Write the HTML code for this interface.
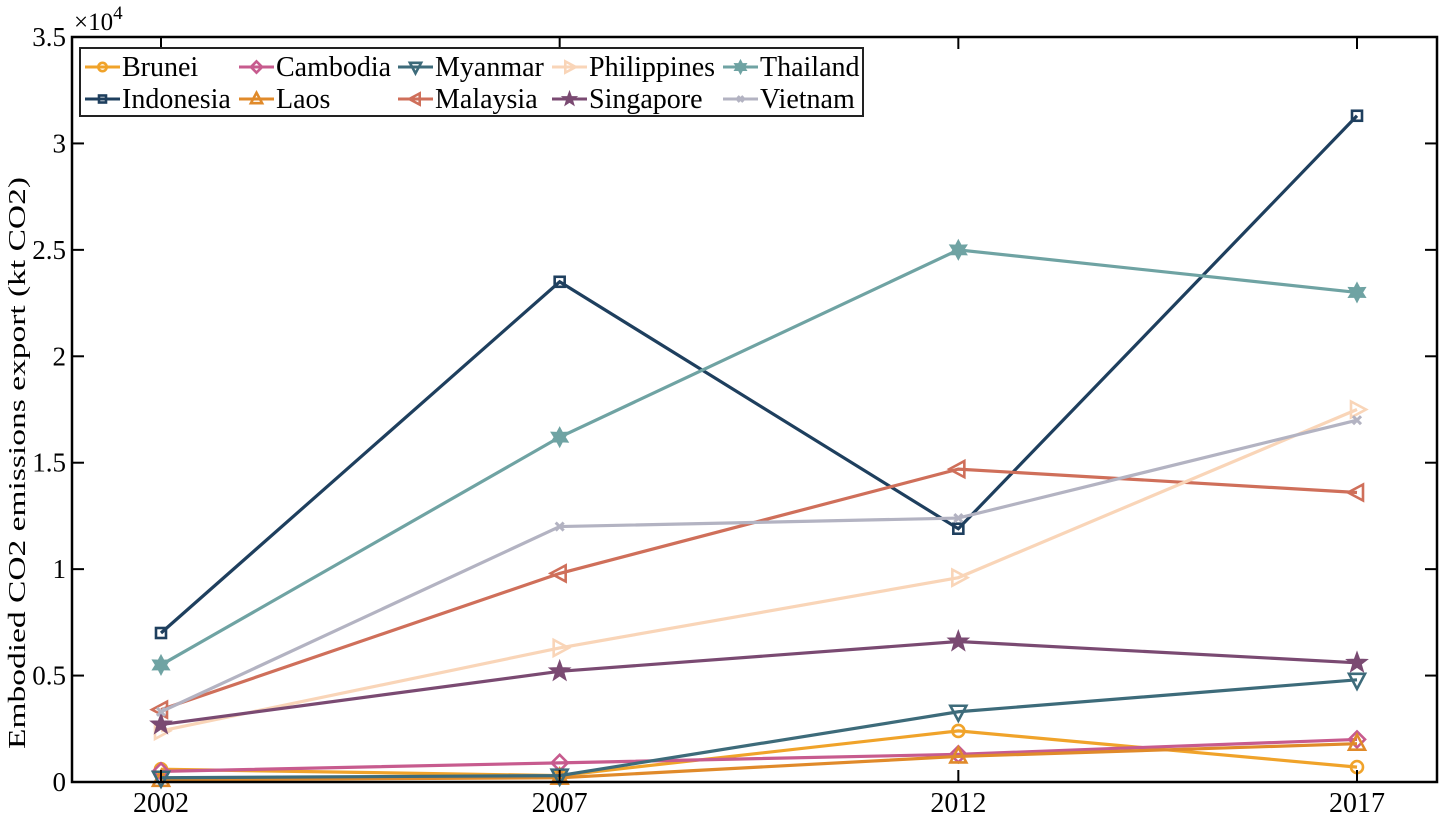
<!DOCTYPE html>
<html><head><meta charset="utf-8"><style>
html,body{margin:0;padding:0;background:#fff;}
svg text{font-family:"Liberation Serif",serif;}
</style></head><body>
<svg id="chart" width="1442" height="817"></svg>
<script>
const years=[2002,2007,2012,2017];
const yTicks=[0,0.5,1,1.5,2,2.5,3,3.5];
const brunei=[600,300,2400,700];
const indonesia=[7000,23500,11900,31300];
const cambodia=[500,900,1300,2000];
const laos=[100,200,1200,1800];
const myanmar=[200,300,3300,4800];
const malaysia=[3400,9800,14700,13600];
const philippines=[2400,6300,9600,17500];
const singapore=[2700,5200,6600,5600];
const thailand=[5500,16200,25000,23000];
const vietnam=[3300,12000,12400,17000];

const series=[
 {name:'Brunei',v:brunei,c:'#f0a32a',m:'circle'},
 {name:'Indonesia',v:indonesia,c:'#1e3f5e',m:'square'},
 {name:'Cambodia',v:cambodia,c:'#c75b8e',m:'diamond'},
 {name:'Laos',v:laos,c:'#e08a2a',m:'tri'},
 {name:'Myanmar',v:myanmar,c:'#3d6b7a',m:'tridown'},
 {name:'Malaysia',v:malaysia,c:'#cf6f5a',m:'triLeft'},
 {name:'Philippines',v:philippines,c:'#f9d5b8',m:'triRight'},
 {name:'Singapore',v:singapore,c:'#7a4a72',m:'star5'},
 {name:'Thailand',v:thailand,c:'#6fa3a3',m:'star6'},
 {name:'Vietnam',v:vietnam,c:'#b3b3c2',m:'x'}
];
const L=72,R=1437,T=37,B=782;
const x=yr=>161+(yr-2002)/15*(1357-161);
const y=v=>B-(v/35000)*(B-T);
const NS='http://www.w3.org/2000/svg';
const svg=document.getElementById('chart');
function mk(t,a,p){const e=document.createElementNS(NS,t);for(const k in a)e.setAttribute(k,a[k]);(p||svg).appendChild(e);return e;}
function marker(g,m,cx,cy,c,k){
 k=k||1;let e;
 const poly=pts=>mk('polygon',{points:pts.map(p=>(cx+p[0]*k)+','+(cy+p[1]*k)).join(' '),fill:'none',stroke:c,'stroke-width':2.6},g);
 if(m==='circle')e=mk('circle',{cx,cy,r:6*k,fill:'none',stroke:c,'stroke-width':2.6},g);
 else if(m==='square')e=mk('rect',{x:cx-5*k,y:cy-5*k,width:10*k,height:10*k,fill:'none',stroke:c,'stroke-width':2.6},g);
 else if(m==='diamond')e=poly([[0,-8],[8,0],[0,8],[-8,0]]);
 else if(m==='tri')e=poly([[0,-9],[8,6],[-8,6]]);
 else if(m==='tridown')e=poly([[0,9],[8,-6],[-8,-6]]);
 else if(m==='triLeft')e=poly([[-9,0],[6,-8],[6,8]]);
 else if(m==='triRight')e=poly([[9,0],[-6,-8],[-6,8]]);
 else if(m==='star5'){const p=[];for(let i=0;i<10;i++){const r=(i%2?4.5:11)*k,a=-Math.PI/2+i*Math.PI/5;p.push([r*Math.cos(a),r*Math.sin(a)]);}e=mk('polygon',{points:p.map(q=>(cx+q[0])+','+(cy+q[1])).join(' '),fill:c,stroke:c,'stroke-width':1},g);}
 else if(m==='star6'){const p=[];for(let i=0;i<12;i++){const r=(i%2?5.5:10)*k,a=-Math.PI/2+i*Math.PI/6;p.push([r*Math.cos(a),r*Math.sin(a)]);}e=mk('polygon',{points:p.map(q=>(cx+q[0])+','+(cy+q[1])).join(' '),fill:c,stroke:c,'stroke-width':1},g);}
 else {e=mk('path',{d:`M${cx-4*k} ${cy-4*k}L${cx+4*k} ${cy+4*k}M${cx-4*k} ${cy+4*k}L${cx+4*k} ${cy-4*k}`,stroke:c,'stroke-width':3},g);}
 return e;
}
series.forEach(s=>{
 const g=mk('g',{});
 
 
 const pl=mk('polyline',{points:s.v.map((v,i)=>x(years[i])+','+y(v)).join(' '),fill:'none',stroke:s.c,'stroke-width':3.2},g);
 
 
 s.v.forEach((v,i)=>{const e=marker(g,s.m,x(years[i]),y(v),s.c);
  
  });
});
const box=mk('rect',{x:L,y:T,width:R-L,height:B-T,fill:'none',stroke:'#000','stroke-width':2.5});


yTicks.forEach(t=>{const yy=y(t*10000);
 mk('line',{x1:L,x2:L+12,y1:yy,y2:yy,stroke:'#000','stroke-width':2});
 mk('line',{x1:R-12,x2:R,y1:yy,y2:yy,stroke:'#000','stroke-width':2});
 const tx=mk('text',{x:L-6,y:yy+9,'text-anchor':'end','font-size':27});tx.textContent=String(t);
 
 
});
years.forEach(yr=>{const xx=x(yr);
 mk('line',{x1:xx,x2:xx,y1:B,y2:B-12,stroke:'#000','stroke-width':2});
 mk('line',{x1:xx,x2:xx,y1:T,y2:T+12,stroke:'#000','stroke-width':2});
 const tx=mk('text',{x:xx,y:B+30,'text-anchor':'middle','font-size':28});tx.textContent=String(yr);
 
 
});
const ex=mk('text',{x:74,y:30,'font-size':25});ex.innerHTML='×10<tspan dy="-11" font-size="19">4</tspan>';


const yl=mk('text',{x:0,y:0,'font-size':24,'text-anchor':'middle',textLength:572,lengthAdjust:'spacingAndGlyphs',transform:'translate(25,463) rotate(-90)'});
yl.textContent='Embodied CO2 emissions export (kt CO2)';


const lg=mk('g',{});


mk('rect',{x:80,y:48,width:783,height:68,fill:'#fff',stroke:'#222','stroke-width':2},lg);
const cols=[85,239,398,552,723];
const order=[['Brunei','Indonesia'],['Cambodia','Laos'],['Myanmar','Malaysia'],['Philippines','Singapore'],['Thailand','Vietnam']];
order.forEach((pair,ci)=>pair.forEach((nm,ri)=>{
 const s=series.find(q=>q.name===nm);const yy=67+ri*32;const x0=cols[ci];
 const e=mk('g',{},lg);
 
 
 mk('line',{x1:x0,x2:x0+35,y1:yy,y2:yy,stroke:s.c,'stroke-width':3},e);
 marker(e,s.m,x0+17.5,yy,s.c,0.7);
 const t=mk('text',{x:x0+37,y:yy+9,'font-size':28},e);t.textContent=nm;
}));
</script>
</body></html>
